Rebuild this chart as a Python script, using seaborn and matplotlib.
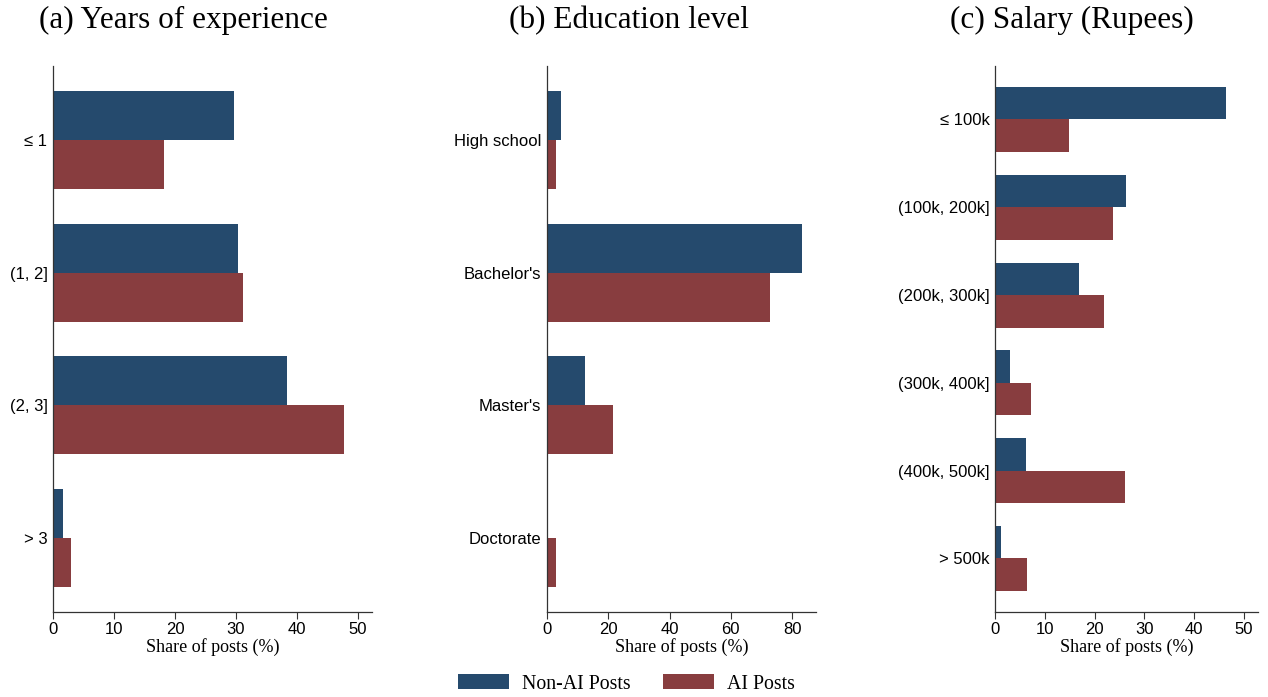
import matplotlib
matplotlib.use("Agg")
import matplotlib.pyplot as plt
from matplotlib.patches import Patch
import seaborn as sns
import pandas as pd

# Share of posts (%) by category
exp_cats = ["\u2264 1", "(1, 2]", "(2, 3]", "> 3"]
exp_nonai = [29.6, 30.3, 38.3, 1.7]
exp_ai = [18.2, 31.1, 47.7, 2.9]

edu_cats = ["High school", "Bachelor's", "Master's", "Doctorate"]
edu_nonai = [4.5, 83.3, 12.3, 0.2]
edu_ai = [2.8, 72.9, 21.4, 2.9]

sal_cats = ["\u2264 100k", "(100k, 200k]", "(200k, 300k]", "(300k, 400k]", "(400k, 500k]", "> 500k"]
sal_nonai = [46.3, 26.3, 16.8, 3.1, 6.3, 1.3]
sal_ai = [14.9, 23.6, 21.8, 7.2, 26.2, 6.4]

series = ["Non-AI Posts", "AI Posts"]
colors = {"Non-AI Posts": "#254a6d", "AI Posts": "#883d3f"}

panels = [
    ("(a) Years of experience", exp_cats, exp_nonai, exp_ai, [0, 10, 20, 30, 40, 50], 52.3,
     [0.0418, 0.122, 0.2516, 0.7834], 0.145),
    ("(b) Education level", edu_cats, edu_nonai, edu_ai, [0, 20, 40, 60, 80], 87.8,
     [0.4314, 0.122, 0.2121, 0.7834], 0.496),
    ("(c) Salary (Rupees)", sal_cats, sal_nonai, sal_ai, [0, 10, 20, 30, 40, 50], 52.8,
     [0.7847, 0.122, 0.2074, 0.7834], 0.845),
]

sns.set_theme(style="white")
serif = "Liberation Serif"
sans = "Liberation Sans"

fig = plt.figure(figsize=(12.68, 6.97), dpi=100)

for title, cats, nonai, ai, xticks, xmax, rect, tx in panels:
    df = pd.DataFrame({
        "category": cats * 2,
        "share": nonai + ai,
        "series": [series[0]] * len(cats) + [series[1]] * len(cats),
    })
    ax = fig.add_axes(rect)
    sns.barplot(data=df, y="category", x="share", hue="series", order=cats,
                hue_order=series, palette=colors, saturation=1, width=0.74,
                orient="h", legend=False, ax=ax, errorbar=None,
                edgecolor="none")
    n = len(cats)
    pad = 0.56 if n == 4 else 0.61
    ax.set_ylim(n - 1 + pad, -pad)
    ax.set_xlim(0, xmax)
    ax.set_xticks(xticks)
    ax.set_xticklabels([str(t) for t in xticks], fontfamily=sans, fontsize=12, color="black")
    ax.set_yticklabels(cats, fontfamily=sans, fontsize=12, color="black")
    ax.set_ylabel("")
    ax.set_xlabel("Share of posts (%)", fontfamily=serif, fontsize=13, labelpad=1, color="black")
    for s in ["top", "right"]:
        ax.spines[s].set_visible(False)
    for s in ["left", "bottom"]:
        ax.spines[s].set_color("#333333")
        ax.spines[s].set_linewidth(0.9)
    ax.tick_params(axis="x", length=5, width=0.8, color="#333333", pad=2, direction="out", bottom=True)
    ax.tick_params(axis="y", length=0, pad=4)
    fig.text(tx, 0.970, title, ha="center", va="center", fontfamily=serif, fontsize=22.5,
             color="black")

handles = [Patch(facecolor=colors[s], edgecolor="none", label=s) for s in series]
fig.legend(handles=handles, loc="center", bbox_to_anchor=(0.494, 0.019), ncol=2,
           frameon=False, prop={"family": serif, "size": 14.3}, handlelength=2.6,
           handleheight=0.8, columnspacing=1.6, handletextpad=0.65,
           labelcolor="black")

fig.savefig("out.png", dpi=100, facecolor="white")
